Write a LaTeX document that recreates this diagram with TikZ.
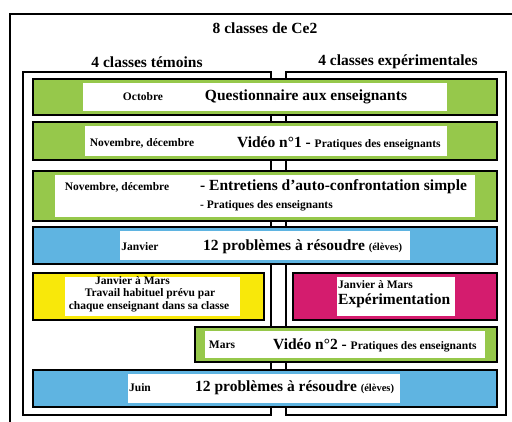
\documentclass[tikz,border=0pt]{standalone}
\usepackage{fontspec}
\setmainfont{Liberation Serif}
\definecolor{vert}{RGB}{150,200,75}
\definecolor{bleu}{RGB}{95,180,225}
\definecolor{jaune}{RGB}{248,232,10}
\definecolor{rose}{RGB}{212,28,110}
\newcommand{\petitfont}{\fontsize{11.5}{13}\selectfont}
\newcommand{\minifont}{\fontsize{10.5}{12}\selectfont}

\begin{document}
\begin{tikzpicture}[x=1pt,y=-1pt,
  cadre/.style={line width=1.6pt},
  bord/.style={line width=2.2pt},
  gros/.style={font=\fontsize{15.5}{17}\selectfont\bfseries, inner sep=0pt},
  petit/.style={font=\petitfont\bfseries, inner sep=0pt}]

\useasboundingbox (0,0) rectangle (512,421);
\clip (0,0) rectangle (512,421);

% bande : couleur, x1, y1, x2, y2, debut et fin du blanc
\def\bande#1#2#3#4#5#6#7{%
  \fill[#1] (#2,#3) rectangle (#4,#5);
  \fill[white] (#6,#3+4) rectangle (#7,#5-4);
  \draw[bord] (#2,#3) rectangle (#4,#5);}

% cadre general
\draw[line width=1.2pt] (10,440) -- (10,14) -- (530,14);

% les deux groupes
\draw[cadre] (23,72) rectangle (271,415);
\draw[cadre] (286,72) rectangle (506,415);

\bande{vert}{33}{79}{497}{115}{83}{447}
\bande{vert}{33}{122}{497}{160}{85}{447}
\bande{vert}{33}{171}{497}{221}{55}{475}
\bande{bleu}{33}{227}{497}{264}{120}{410}
\bande{jaune}{33}{273}{264}{320}{65}{240}
\bande{rose}{293}{273}{497}{320}{337}{455}
\bande{vert}{195}{327}{497}{362}{205}{485}
\bande{bleu}{33}{370}{497}{407}{128}{400}

% titres
\node[gros] (titre) at (265,28) {8 classes de Ce2};
\node[gros] (temoins) at (147,62) {4 classes témoins};
\node[gros] (exper) at (398,62) {4 classes expérimentales};

% octobre
\node[petit] (oct) at (143,97) {Octobre};
\node[gros] (quest) at (306,97) {Questionnaire aux enseignants};

% novembre
\node[petit] (nov1) at (142,143) {Novembre, décembre};
\node[gros,anchor=west] (video1) at (237,143) {Vidéo n°1 - {\petitfont Pratiques des enseignants}};
\node[petit] (nov2) at (117,187) {Novembre, décembre};
\node[gros,anchor=west] (entr) at (200,187) {- Entretiens d'auto-confrontation simple};
\node[petit,anchor=west] (prat) at (200,206) {- Pratiques des enseignants};

% janvier
\node[petit] (janv) at (140,247) {Janvier};
\node[gros,anchor=west] (pb1) at (203,247) {12 problèmes à résoudre {\minifont (élèves)}};

% janvier a mars
\node[petit,anchor=west] (jm1) at (95,281) {Janvier à Mars};
\node[petit] (trav) at (150,294) {Travail habituel prévu par};
\node[petit] (chaq) at (149,307) {chaque enseignant dans sa classe};
\node[petit,anchor=west] (jm2) at (338,285) {Janvier à Mars};
\node[gros,anchor=west] (expe) at (338,301) {Expérimentation};

% mars
\node[petit] (mars) at (222,345) {Mars};
\node[gros,anchor=west] (video2) at (273,345) {Vidéo n°2 - {\petitfont Pratiques des enseignants}};

% juin
\node[petit] (juin) at (140,388) {Juin};
\node[gros,anchor=west] (pb2) at (195,388) {12 problèmes à résoudre {\minifont (élèves)}};

\end{tikzpicture}
\end{document}
